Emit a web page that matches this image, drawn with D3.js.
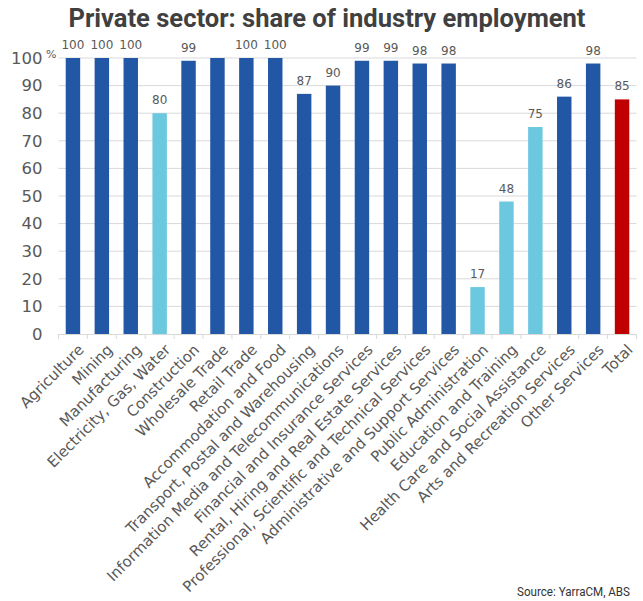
<!DOCTYPE html>
<html>
<head>
<meta charset="utf-8">
<script src="https://cdn.jsdelivr.net/npm/d3@7/dist/d3.min.js"></script>
<style>
  html, body { margin: 0; padding: 0; background: #ffffff; }
  svg { display: block; }
</style>
</head>
<body>
<div id="chart"></div>
<script>
// Industry names, in display order
const categories = [
  "Agriculture", "Mining", "Manufacturing", "Electricity, Gas, Water",
  "Construction", "Wholesale Trade", "Retail Trade", "Accommodation and Food",
  "Transport, Postal and Warehousing", "Information Media and Telecommunications",
  "Financial and Insurance Services", "Rental, Hiring and Real Estate Services",
  "Professional, Scientific and Technical Services", "Administrative and Support Services",
  "Public Administration", "Education and Training", "Health Care and Social Assistance",
  "Arts and Recreation Services", "Other Services", "Total"
];

// Private sector share of each industry's employment, %
const values = [100, 100, 100, 80, 99, 100, 100, 100, 87, 90, 99, 99, 98, 98, 17, 48, 75, 86, 98, 85];

// Colour group per bar: mostly private, mixed, or the overall total
const groups = [
  "private", "private", "private", "mixed", "private", "private", "private", "private",
  "private", "private", "private", "private", "private", "private",
  "mixed", "mixed", "mixed", "private", "private", "total"
];

// Bars whose value label is not printed
const unlabelled = ["Wholesale Trade"];

// Y axis ticks
const yTicks = [0, 10, 20, 30, 40, 50, 60, 70, 80, 90, 100];

const colours = { private: "#2257A6", mixed: "#6CC8DF", total: "#C00000" };

const W = 643, H = 601;
const margin = { left: 58.5, right: 6.5, top: 58, bottom: 267 };

const svg = d3.select("#chart").append("svg")
  .attr("width", W).attr("height", H);

const x = d3.scaleBand()
  .domain(categories)
  .range([margin.left, W - margin.right])
  .paddingInner(0.5)
  .paddingOuter(0.25);

const y = d3.scaleLinear()
  .domain([0, 100])
  .range([H - margin.bottom, margin.top]);

// Title
svg.append("text")
  .attr("x", 327).attr("y", 27)
  .attr("text-anchor", "middle")
  .attr("font-family", "Roboto, sans-serif")
  .attr("font-weight", 700)
  .attr("font-size", 26)
  .attr("fill", "#404040")
  .attr("textLength", 517)
  .attr("lengthAdjust", "spacingAndGlyphs")
  .text("Private sector: share of industry employment");

// Horizontal gridlines
svg.append("g")
  .selectAll("line")
  .data(yTicks.filter(d => d > 0))
  .join("line")
  .attr("x1", margin.left).attr("x2", W - margin.right)
  .attr("y1", d => y(d)).attr("y2", d => y(d))
  .attr("stroke", "#D9D9D9").attr("stroke-width", 1);

// Y axis labels
const yAxis = d3.axisLeft(y).tickValues(yTicks).tickSize(0).tickPadding(0);
const yg = svg.append("g")
  .attr("transform", `translate(${margin.left - 16},0)`)
  .call(yAxis);
yg.select(".domain").remove();
yg.selectAll("text")
  .attr("font-family", "'DejaVu Sans', Verdana, sans-serif")
  .attr("font-size", 16.5)
  .attr("fill", "#595959");

// Unit marker
svg.append("text")
  .attr("x", 46).attr("y", 58)
  .attr("font-family", "'DejaVu Sans', Verdana, sans-serif")
  .attr("font-size", 11)
  .attr("fill", "#595959")
  .text("%");

// Bars
svg.append("g")
  .selectAll("rect")
  .data(categories)
  .join("rect")
  .attr("x", d => x(d))
  .attr("width", x.bandwidth())
  .attr("y", (d, i) => y(values[i]))
  .attr("height", (d, i) => y(0) - y(values[i]))
  .attr("fill", (d, i) => colours[groups[i]]);

// Value labels
svg.append("g")
  .selectAll("text")
  .data(categories.filter(c => !unlabelled.includes(c)))
  .join("text")
  .attr("x", d => x(d) + x.bandwidth() / 2)
  .attr("y", d => y(values[categories.indexOf(d)]) - 9)
  .attr("text-anchor", "middle")
  .attr("font-family", "'DejaVu Sans', Verdana, sans-serif")
  .attr("font-size", 12)
  .attr("fill", "#595959")
  .text(d => values[categories.indexOf(d)]);

// Category axis line and tick marks between bands
const base = y(0);
const step = x.step();
const axisG = svg.append("g");
axisG.append("line")
  .attr("x1", margin.left).attr("x2", W - margin.right)
  .attr("y1", base + 0.5).attr("y2", base + 0.5)
  .attr("stroke", "#D9D9D9");
axisG.selectAll("line.tick")
  .data(d3.range(categories.length + 1))
  .join("line")
  .attr("class", "tick")
  .attr("x1", i => margin.left + i * step)
  .attr("x2", i => margin.left + i * step)
  .attr("y1", base).attr("y2", base + 5)
  .attr("stroke", "#D9D9D9");

// Rotated category labels
svg.append("g")
  .selectAll("text")
  .data(categories)
  .join("text")
  .attr("transform", d => `translate(${x(d) + x.bandwidth() / 2 + 8},${base + 13}) rotate(-45)`)
  .attr("text-anchor", "end")
  .attr("dy", "0.35em")
  .attr("font-family", "'DejaVu Sans', Verdana, sans-serif")
  .attr("font-size", 15)
  .attr("fill", "#595959")
  .text(d => d);

// Source note
svg.append("text")
  .attr("x", 630).attr("y", 596)
  .attr("text-anchor", "end")
  .attr("font-family", "Roboto, sans-serif")
  .attr("font-size", 12.5)
  .attr("fill", "#333333")
  .attr("textLength", 113)
  .attr("lengthAdjust", "spacingAndGlyphs")
  .text("Source: YarraCM, ABS");
</script>
</body>
</html>
